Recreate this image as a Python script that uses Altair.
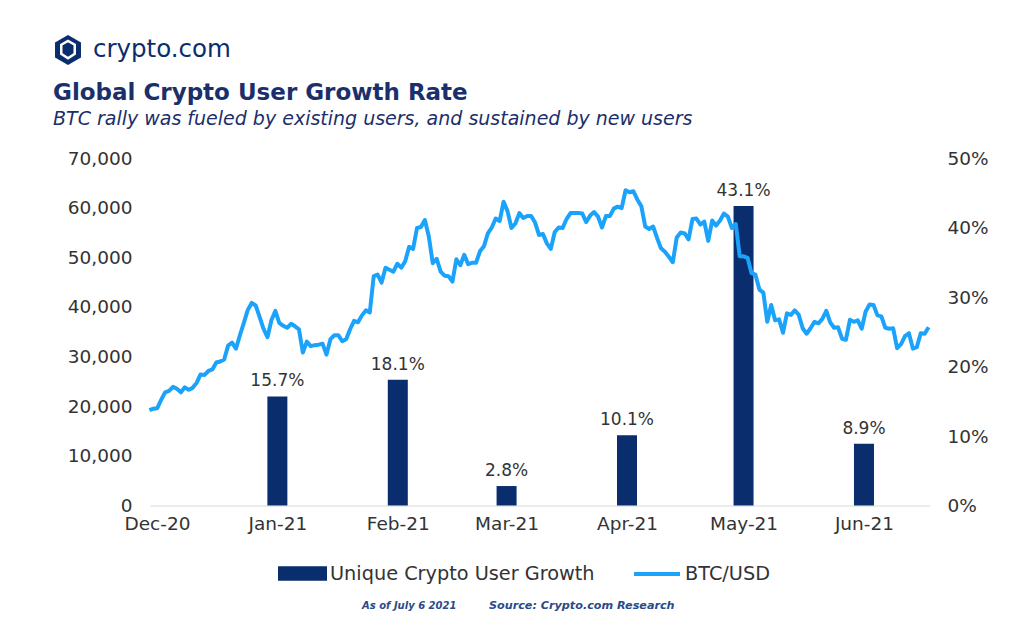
import altair as alt
import pandas as pd

# ---------------- data ----------------
bar_months = ["2021-01-01T00:00:00", "2021-02-01T00:00:00", "2021-03-01T00:00:00",
              "2021-04-01T00:00:00", "2021-05-01T00:00:00", "2021-06-01T00:00:00"]
growth_pct = [15.7, 18.1, 2.8, 10.1, 43.1, 8.9]
growth_labels = ["15.7%", "18.1%", "2.8%", "10.1%", "43.1%", "8.9%"]
tick_months = [(2020, 12), (2021, 1), (2021, 2), (2021, 3), (2021, 4), (2021, 5), (2021, 6)]
left_ticks = [0, 10000, 20000, 30000, 40000, 50000, 60000, 70000]
right_ticks = [0, 10, 20, 30, 40, 50]

btc_start = "2020-12-13"
btc_usd = [
    19200, 19500, 19600, 21300, 22800, 23100, 23900, 23500, 22800, 23800,
    23300, 23700, 24700, 26400, 26300, 27100, 27400, 28800, 29000, 29400,
    32200, 32800, 31600, 34300, 36800, 39400, 40800, 40300, 38000, 35600,
    33900, 37300, 39200, 36800, 36200, 35800, 36600, 36100, 35500, 30800,
    33000, 32100, 32300, 32400, 32600, 30400, 33500, 34300, 34300, 33100,
    33500, 35500, 37200, 36900, 38300, 39300, 38900, 46200, 46500, 44900,
    47900, 47500, 47100, 48700, 47900, 49200, 52100, 51700, 55900, 56100,
    57500, 54200, 48800, 49700, 47100, 46300, 46200, 45100, 49600, 48400,
    50500, 48600, 48900, 48900, 51200, 52200, 54800, 56000, 57800, 57300,
    61200, 59300, 55900, 56800, 58900, 57900, 58300, 58300, 57000, 54500,
    54700, 52800, 51700, 55100, 56000, 55900, 57700, 58900, 58900, 58900,
    58800, 57100, 58400, 59100, 58200, 56000, 58300, 58300, 59800, 60200,
    59900, 63500, 63100, 63300, 61600, 60300, 56200, 55700, 56200, 53900,
    51800, 51100, 50100, 49000, 54000, 55000, 54800, 53600, 57700, 57800,
    56600, 57200, 53300, 57400, 56400, 57400, 58800, 58200, 55900, 56700,
    50200, 50200, 49900, 46800, 46500, 43500, 42900, 37000, 40400, 37300,
    37500, 34800, 38700, 38400, 39300, 38400, 35700, 34600, 35700, 37000,
    36700, 37600, 39200, 36900, 35800, 35900, 33600, 33400, 37400, 37000,
    37300, 35600, 39100, 40500, 40400, 38300, 38100, 35800, 35600, 35700,
    31700, 32500, 34100, 34700, 31600, 31900, 34700, 34600, 35900,
]

# ---------------- styles ----------------
FONT = "DejaVu Sans"
NAVY = "#0a2d6e"
BLUE = "#1ba3fb"
TITLE_NAVY = "#1b2f6b"
GREY = "#333333"

bars_df = pd.DataFrame({
    "month": bar_months,
    "growth": growth_pct,
    "label": growth_labels,
    "series": ["Unique Crypto User Growth"] * len(bar_months),
})
btc_df = pd.DataFrame({
    "date": pd.date_range(btc_start, periods=len(btc_usd), freq="D").strftime("%Y-%m-%dT%H:%M:%S"),
    "btc": btc_usd,
    "series": ["BTC/USD"] * len(btc_usd),
})


def dt(y, m, d, h=0, mi=0):
    return alt.DateTime(year=y, month=m, date=d, hours=h, minutes=mi)


x_bar = alt.X(
    "month:T",
    scale=alt.Scale(domain=[dt(2020, 11, 30, 12), dt(2021, 6, 16, 17)]),
    axis=alt.Axis(
        values=[dt(y, m, 1) for y, m in tick_months],
        format="%b-%y", title=None, grid=False, ticks=False,
        domain=True, domainColor="#d9d9d9", domainWidth=1.2,
        labelFont=FONT, labelFontSize=18.5, labelColor=GREY, labelPadding=9,
        labelFlush=False, labelOverlap=False,
    ),
)
y_bar = alt.Y(
    "growth:Q",
    scale=alt.Scale(domain=[0, 50], nice=False),
    axis=alt.Axis(
        orient="right", values=right_ticks, labelExpr="datum.value + '%'",
        title=None, grid=False, ticks=False, domain=False,
        labelFont=FONT, labelFontSize=18.5, labelColor=GREY, labelPadding=17,
    ),
)

bars = alt.Chart(bars_df).mark_bar(size=20).encode(
    x=x_bar,
    y=y_bar,
    color=alt.Color(
        "series:N",
        scale=alt.Scale(domain=["Unique Crypto User Growth"], range=[NAVY]),
        legend=alt.Legend(
            orient="none", legendX=128, legendY=391, direction="horizontal",
            title=None, symbolType="M-1,-0.3H1V0.3H-1Z", symbolSize=2401,
            symbolStrokeWidth=0, symbolOpacity=1, labelFont=FONT, labelFontSize=19.3,
            labelColor=GREY, labelOffset=3, padding=0, labelLimit=400,
        ),
    ),
)
bar_text = alt.Chart(bars_df).mark_text(
    baseline="bottom", dy=-6, font=FONT, fontSize=17, color=GREY
).encode(x=x_bar, y=y_bar, text="label:N")

line = alt.Chart(btc_df).mark_line(strokeWidth=4, strokeJoin="round").encode(
    x=alt.X("date:T", scale=alt.Scale(domain=[dt(2020, 12, 13, 3, 40), dt(2021, 6, 29, 8, 30)]), axis=None),
    y=alt.Y(
        "btc:Q",
        scale=alt.Scale(domain=[0, 70000], nice=False),
        axis=alt.Axis(
            orient="left", values=left_ticks, format=",.0f", title=None, grid=False,
            ticks=False, domain=False, labelFont=FONT, labelFontSize=18.5,
            labelColor=GREY, labelPadding=18,
        ),
    ),
    stroke=alt.Stroke(
        "series:N",
        scale=alt.Scale(domain=["BTC/USD"], range=[BLUE]),
        legend=alt.Legend(
            orient="none", legendX=482, legendY=391, direction="horizontal",
            title=None, symbolType="stroke", symbolSize=2116, symbolStrokeWidth=4,
            labelFont=FONT, labelFontSize=19.3, labelColor=GREY, labelOffset=3,
            padding=0, labelLimit=400,
        ),
    ),
)

one = pd.DataFrame({"k": [0]})

logo_hex = alt.Chart(one).mark_point(
    shape="M0,-1L0.866,-0.5L0.866,0.5L0,1L-0.866,0.5L-0.866,-0.5Z",
    filled=True, color=NAVY, opacity=1, size=900,
).encode(x=alt.value(-82), y=alt.value(-108))
logo_inner = alt.Chart(one).mark_point(
    shape="M-0.45,-0.35L0,-0.6L0.45,-0.35L0.45,0.25L0,0.55L-0.45,0.25Z",
    filled=False, color="white", opacity=1, size=900, strokeWidth=2.5,
).encode(x=alt.value(-82), y=alt.value(-108))
logo_text = alt.Chart(one).mark_text(
    text="crypto.com", align="left", baseline="alphabetic", font=FONT,
    fontSize=24.5, color=NAVY,
).encode(x=alt.value(-57), y=alt.value(-101))
title = alt.Chart(one).mark_text(
    text="Global Crypto User Growth Rate", align="left", baseline="alphabetic",
    font=FONT, fontSize=23, fontWeight="bold", color=TITLE_NAVY,
).encode(x=alt.value(-97), y=alt.value(-58))
subtitle = alt.Chart(one).mark_text(
    text="BTC rally was fueled by existing users, and sustained by new users",
    align="left", baseline="alphabetic", font=FONT, fontSize=19,
    fontStyle="italic", color=TITLE_NAVY,
).encode(x=alt.value(-97), y=alt.value(-33))
foot1 = alt.Chart(one).mark_text(
    text="As of July 6 2021", align="left", baseline="alphabetic", font=FONT,
    fontSize=10, fontStyle="italic", fontWeight="bold", color="#2a4a8a",
).encode(x=alt.value(212), y=alt.value(451))
foot2 = alt.Chart(one).mark_text(
    text="Source: Crypto.com Research", align="left", baseline="alphabetic", font=FONT,
    fontSize=11.2, fontStyle="italic", fontWeight="bold", color="#2a4a8a",
).encode(x=alt.value(339), y=alt.value(451))

bar_layer = alt.layer(bars, bar_text)

chart = (
    alt.layer(bar_layer, line, logo_hex, logo_inner, logo_text, title, subtitle, foot1, foot2)
    .resolve_scale(x="independent", y="independent", color="independent", stroke="independent")
    .properties(
        width=780, height=347.5,
        padding={"left": 142, "top": 150, "right": 70, "bottom": 114},
        autosize=alt.AutoSizeParams(type="none"),
        background="white",
    )
    .configure_view(stroke=None)
)

chart.save("out.html", embed_options={"renderer": "svg", "actions": False})
